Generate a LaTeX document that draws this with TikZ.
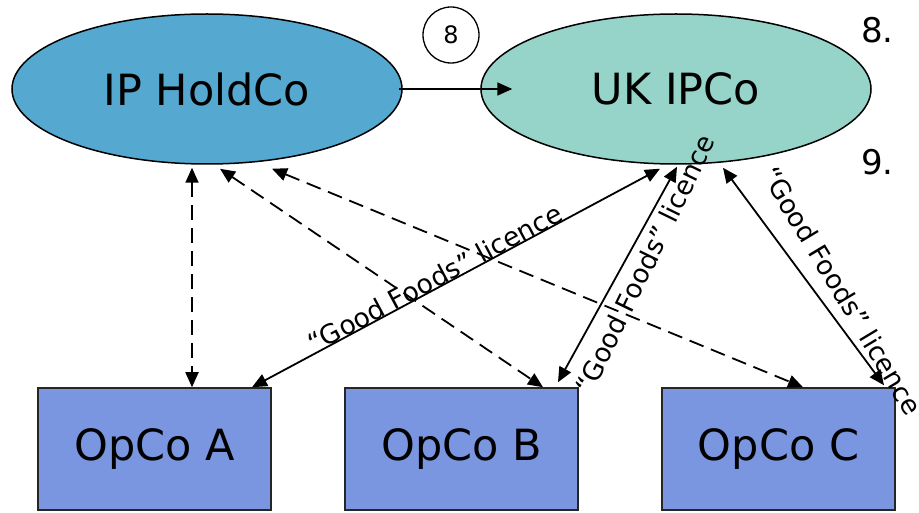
\documentclass[tikz,border=0pt]{standalone}
\usepackage{fontspec}
\setmainfont{DejaVu Sans}
\usetikzlibrary{arrows.meta,shapes.geometric}
\definecolor{holdblue}{HTML}{55A8CF}
\definecolor{ipgreen}{HTML}{96D3C8}
\definecolor{opblue}{HTML}{7A96E0}
\begin{document}
\begin{tikzpicture}[x=1pt,y=1pt,
  company/.style={ellipse, draw=black, line width=1.5pt, minimum width=390pt,
    minimum height=150pt, inner sep=0pt, font=\fontsize{43}{50}\selectfont},
  opco/.style={rectangle, draw=black!85, line width=1.5pt, fill=opblue,
    minimum width=233pt, minimum height=122pt, inner sep=0pt,
    font=\fontsize{43}{50}\selectfont},
  tipend/.style={-{Triangle[length=15pt,width=13pt]}},
  bothends/.style={{Triangle[length=15pt,width=13pt]}-{Triangle[length=15pt,width=13pt]}},
  link/.style={line width=1.8pt},
  dashlink/.style={line width=1.8pt, dash pattern=on 15pt off 8pt},
  lic/.style={font=\fontsize{26.5}{30}\selectfont, inner sep=0pt},
  stepnum/.style={anchor=base west, inner sep=0pt, font=\fontsize{34}{40}\selectfont}
]
\useasboundingbox (0,0) rectangle (919,512);

% companies
\node[company, fill=holdblue] (hold) at (207,423) {IP HoldCo};
\node[company, fill=ipgreen] (ukip) at (676,423) {UK IPCo};
\node[circle, draw, line width=1.3pt, minimum size=56pt, inner sep=0pt,
      font=\fontsize{24}{28}\selectfont] (step8) at (451,477) {8};
\node[stepnum] (n8) at (861,469) {8.};
\node[stepnum] (n9) at (861,337) {9.};

\node[opco] (opA) at (154.5,63) {OpCo A};
\node[opco] (opB) at (461.5,63) {OpCo B};
\node[opco] (opC) at (778.5,63) {OpCo C};

% transfer of IP
\draw[link, tipend] ([xshift=-4pt]hold.east) -- ([xshift=32pt]ukip.west);

% holding company links
\draw[dashlink, bothends] ([shift={(-15pt,-3pt)}]hold.south) -- ([xshift=37.5pt]opA.north);
\draw[dashlink, bothends] ([shift={(13pt,-4pt)}]hold.south) -- ([xshift=81.5pt]opB.north);
\draw[dashlink, bothends] ([shift={(65pt,-4pt)}]hold.south) -- ([xshift=24.5pt]opC.north);

% licences
\draw[link, bothends] ([shift={(-16pt,-4pt)}]ukip.south) --
  node[lic, sloped, anchor=base, pos=0.54] (lic1) {“Good Foods” licence}
  ([xshift=97.5pt]opA.north);
\draw[link, bothends] ([shift={(1pt,-2pt)}]ukip.south) -- ([shift={(96.5pt,5pt)}]opB.north);
\draw[link, bothends] ([shift={(47pt,-3pt)}]ukip.south) -- ([shift={(105.5pt,2pt)}]opC.north);

\node[lic, rotate=64] (lic2) at (645,248) {“Good Foods” licence};
\node[lic, rotate=-59] (lic3) at (842,221) {“Good Foods” licence};
\end{tikzpicture}
\end{document}
